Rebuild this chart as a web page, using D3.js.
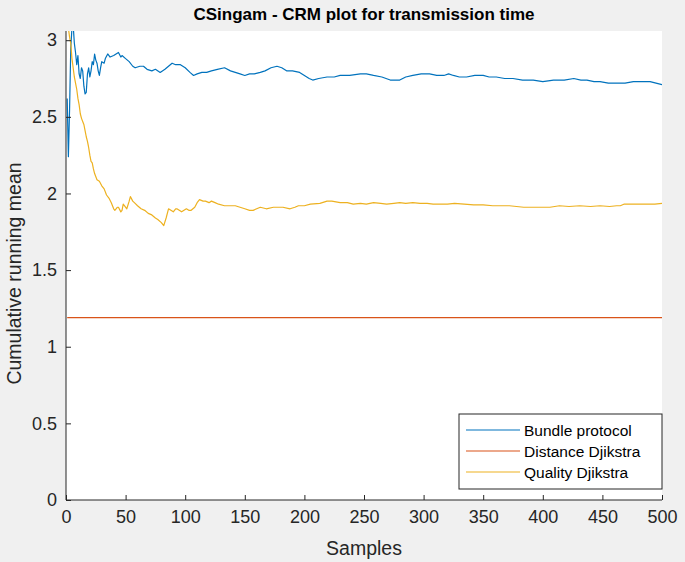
<!DOCTYPE html>
<html>
<head>
<meta charset="utf-8">
<script src="https://cdn.jsdelivr.net/npm/d3@7"></script>
<style>
  html, body { margin: 0; padding: 0; background: #f0f0f0; }
  svg { display: block; font-family: "Liberation Sans", Arial, Helvetica, sans-serif; }
</style>
</head>
<body>
<svg id="chart" width="685" height="562"></svg>
<script>
const title = "CSingam - CRM plot for transmission time";
const xLabel = "Samples";
const yLabel = "Cumulative running mean";
const seriesNames = ["Bundle protocol", "Distance Djikstra", "Quality Djikstra"];
const seriesColors = ["#0072BD", "#D95319", "#EDB120"];
const xTicks = [0, 50, 100, 150, 200, 250, 300, 350, 400, 450, 500];
const yTicks = [0, 0.5, 1, 1.5, 2, 2.5, 3];
const yTickLabels = ["0", "0.5", "1", "1.5", "2", "2.5", "3"];

// Bundle protocol: sample index / cumulative running mean
const bundleX = [1,2,3,4,5,6,7,8,9,10,11,12,13,14,15,16,17,18,19,20,21,22,23,24,25,26,27,28,29,30,32,33,35,37,40,42,44,46,47,50,53,56,58,62,65,68,72,75,79,83,86,89,92,96,100,104,107,110,114,118,122,127,133,138,142,146,150,154,158,163,167,172,177,181,185,190,196,200,204,207,212,219,225,230,238,247,252,258,265,272,276,280,285,291,298,305,311,317,321,325,330,336,343,350,355,361,368,375,383,392,400,409,418,426,432,437,443,448,455,462,469,476,483,490,495,500];
const bundleY = [2.62,2.24,2.55,2.95,3.08,3.1,2.98,2.92,2.84,2.9,2.78,2.75,2.82,2.8,2.7,2.65,2.66,2.78,2.82,2.76,2.8,2.86,2.84,2.91,2.87,2.85,2.8,2.77,2.82,2.86,2.85,2.88,2.91,2.89,2.9,2.91,2.92,2.89,2.9,2.88,2.86,2.83,2.82,2.83,2.83,2.81,2.8,2.81,2.79,2.81,2.83,2.85,2.84,2.84,2.82,2.79,2.77,2.78,2.79,2.79,2.8,2.81,2.82,2.8,2.79,2.78,2.77,2.78,2.78,2.79,2.8,2.82,2.83,2.82,2.8,2.8,2.79,2.77,2.75,2.74,2.75,2.76,2.76,2.77,2.77,2.78,2.78,2.77,2.76,2.74,2.74,2.74,2.76,2.77,2.78,2.78,2.77,2.77,2.78,2.77,2.76,2.76,2.77,2.77,2.76,2.76,2.75,2.75,2.74,2.74,2.73,2.74,2.74,2.75,2.74,2.74,2.73,2.73,2.72,2.72,2.72,2.73,2.73,2.73,2.72,2.71];

// Distance Djikstra: constant
const distanceX = [1, 500];
const distanceY = [1.19, 1.19];

// Quality Djikstra
const qualityX = [1,2,3,4,5,6,7,8,9,10,11,12,13,14,15,16,17,18,19,20,21,22,23,24,26,28,30,32,34,36,38,40,41,43,44,46,47,48,49,51,53,54,56,58,60,63,66,69,72,75,77,80,82,84,86,88,90,92,93,95,97,99,101,103,105,108,110,112,115,117,120,122,125,128,133,138,142,146,150,154,157,163,168,174,182,188,192,195,200,205,213,219,223,230,236,241,247,252,258,264,269,275,280,285,291,297,303,308,314,320,326,334,342,350,358,365,372,378,384,391,398,406,414,422,431,440,448,456,462,465,468,474,481,488,494,500];
const qualityY = [3.12,3.08,3.02,2.98,2.88,2.82,2.76,2.72,2.68,2.62,2.58,2.52,2.49,2.47,2.45,2.41,2.37,2.34,2.3,2.25,2.21,2.2,2.16,2.13,2.09,2.08,2.05,2.03,1.99,1.97,1.94,1.9,1.89,1.91,1.91,1.88,1.89,1.93,1.92,1.9,1.95,1.98,1.95,1.935,1.92,1.9,1.89,1.87,1.86,1.84,1.83,1.81,1.79,1.84,1.9,1.89,1.88,1.9,1.9,1.89,1.88,1.89,1.9,1.89,1.89,1.91,1.94,1.96,1.95,1.95,1.94,1.95,1.94,1.93,1.92,1.92,1.92,1.91,1.9,1.89,1.89,1.91,1.9,1.91,1.91,1.9,1.91,1.92,1.92,1.93,1.935,1.95,1.95,1.94,1.94,1.93,1.935,1.93,1.94,1.935,1.93,1.935,1.94,1.935,1.94,1.935,1.935,1.93,1.93,1.93,1.935,1.93,1.925,1.925,1.92,1.92,1.92,1.915,1.91,1.91,1.91,1.91,1.92,1.915,1.92,1.915,1.92,1.915,1.92,1.92,1.93,1.93,1.93,1.93,1.93,1.935];

const seriesX = [bundleX, distanceX, qualityX];
const seriesY = [bundleY, distanceY, qualityY];

const svg = d3.select("#chart");
const W = 685, H = 562;
const pL = 66, pR = 662, pT = 31, pB = 500;
const axisColor = "#262626";

svg.append("rect").attr("x", 0).attr("y", 0).attr("width", W).attr("height", H).attr("fill", "#f0f0f0");
svg.append("rect").attr("x", pL).attr("y", pT).attr("width", pR - pL).attr("height", pB - pT).attr("fill", "#ffffff");

const x = d3.scaleLinear().domain([0, 500]).range([pL, pR]);
const y = d3.scaleLinear().domain([0, 3.06]).range([pB, pT]);

svg.append("clipPath").attr("id", "plotclip")
  .append("rect").attr("x", pL).attr("y", pT).attr("width", pR - pL).attr("height", pB - pT);

const line = d3.line().x(d => x(d[0])).y(d => y(d[1]));
const plotG = svg.append("g").attr("clip-path", "url(#plotclip)");
seriesNames.forEach((name, i) => {
  const pts = seriesX[i].map((v, k) => [v, seriesY[i][k]]);
  plotG.append("path").datum(pts)
    .attr("fill", "none")
    .attr("stroke", seriesColors[i])
    .attr("stroke-width", 1.2)
    .attr("stroke-linejoin", "round")
    .attr("d", line);
});

// Axes (MATLAB style: ticks inward)
const xAxis = d3.axisBottom(x).tickValues(xTicks).tickSizeInner(-5).tickSizeOuter(0).tickPadding(10).tickFormat(d3.format("d"));
const gx = svg.append("g").attr("transform", `translate(0,${pB})`).call(xAxis);
const yAxis = d3.axisLeft(y).tickValues(yTicks).tickSizeInner(-5).tickSizeOuter(0).tickPadding(9).tickFormat((d, i) => yTickLabels[i]);
const gy = svg.append("g").attr("transform", `translate(${pL},0)`).call(yAxis);

[gx, gy].forEach(g => {
  g.select(".domain").attr("stroke", axisColor).attr("stroke-width", 1);
  g.selectAll(".tick line").attr("stroke", axisColor).attr("stroke-width", 1);
  g.selectAll(".tick text").attr("fill", axisColor).style("font-size", "18px").style("font-family", "'Liberation Sans', Arial, sans-serif");
});
gy.select(".domain").attr("d", `M0,${pT}V${pB}`);
gx.select(".domain").attr("d", `M${pL},0H${pR}`);

// Title and axis labels
svg.append("text").attr("x", (pL + pR) / 2).attr("y", 20)
  .attr("text-anchor", "middle").attr("fill", "#000")
  .style("font-size", "17px").style("font-weight", "bold").text(title);
svg.append("text").attr("x", (pL + pR) / 2).attr("y", 555)
  .attr("text-anchor", "middle").attr("fill", axisColor)
  .style("font-size", "19.5px").text(xLabel);
svg.append("text").attr("transform", `translate(21,${(pT + pB) / 2 + 8}) rotate(-90)`)
  .attr("text-anchor", "middle").attr("fill", axisColor)
  .style("font-size", "19.5px").text(yLabel);

// Legend
const lg = svg.append("g");
const lx = 459, ly = 414, lw = 203, lh = 75;
lg.append("rect").attr("x", lx).attr("y", ly).attr("width", lw).attr("height", lh)
  .attr("fill", "#fff").attr("stroke", axisColor).attr("stroke-width", 1);
seriesNames.forEach((name, i) => {
  const cy = ly + 16 + i * 21;
  lg.append("line").attr("x1", lx + 7).attr("x2", lx + 61).attr("y1", cy).attr("y2", cy)
    .attr("stroke", seriesColors[i]).attr("stroke-width", 1.2);
  lg.append("text").attr("x", lx + 65).attr("y", cy + 5.5)
    .attr("fill", "#000").style("font-size", "15.5px").text(name);
});
</script>
</body>
</html>
